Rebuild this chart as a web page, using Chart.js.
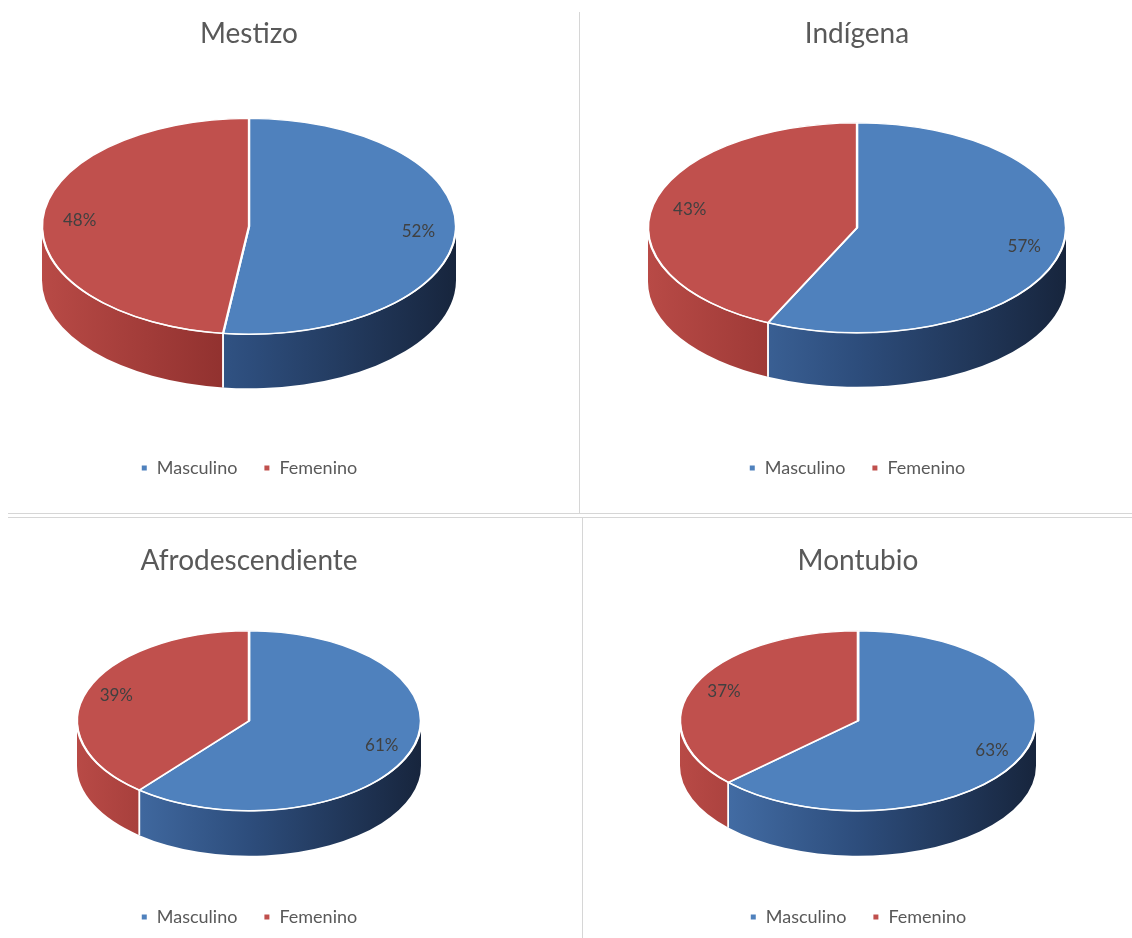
<!DOCTYPE html>
<html>
<head>
<meta charset="utf-8">
<script src="https://cdn.jsdelivr.net/npm/chart.js@4/dist/chart.umd.min.js"></script>
<style>
  body { margin: 0; background: #fff; width: 1132px; height: 938px; position: relative; overflow: hidden; }
  canvas { position: absolute; }
  .ln { position: absolute; background: #d6d6d6; }
</style>
</head>
<body>
<canvas id="mestizo" style="left:0;top:0" width="498" height="508"></canvas>
<canvas id="indigena" style="left:582px;top:0" width="550" height="508"></canvas>
<canvas id="afro" style="left:0;top:520px" width="498" height="418"></canvas>
<canvas id="montubio" style="left:584px;top:520px" width="548" height="418"></canvas>

<div class="ln" style="left:579px;top:12px;width:1px;height:501px"></div>
<div class="ln" style="left:8px;top:513px;width:1124px;height:1px"></div>
<div class="ln" style="left:8px;top:517px;width:1124px;height:1px"></div>
<div class="ln" style="left:582px;top:517px;width:1px;height:421px"></div>

<script>
const labels = ['Masculino', 'Femenino'];
const mestizo = [52, 48];
const indigena = [57, 43];
const afro = [61, 39];
const montubio = [63, 37];

const topColors = ['#4F81BD', '#C0504D'];
// side wall shading, light on the left to dark on the right
const sideColors = [
  ['#4a77b2', '#2d4d7c', '#17253d'],
  ['#b84a46', '#8c2e2c', '#6a2020']
];

// fake 3D: squash the library's arcs into an ellipse and add a wall below
const pie3d = {
  id: 'pie3d',
  beforeDatasetsDraw(chart, args, o) {
    const ctx = chart.ctx;
    const arcs = chart.getDatasetMeta(0).data;
    const R = arcs[0].outerRadius;
    const cx = arcs[0].x, cy = arcs[0].y - o.depth / 2;

    arcs.forEach((arc, i) => {
      const s = Math.max(arc.startAngle, 0), e = Math.min(arc.endAngle, Math.PI);
      if (e <= s) return;
      const g = ctx.createLinearGradient(cx - o.rx, 0, cx + o.rx, 0);
      sideColors[i].forEach((c, k) => g.addColorStop(k / (sideColors[i].length - 1), c));
      ctx.beginPath();
      ctx.ellipse(cx, cy, o.rx, o.ry, 0, s, e);
      ctx.ellipse(cx, cy + o.depth, o.rx, o.ry, 0, e, s, true);
      ctx.closePath();
      ctx.fillStyle = g;
      ctx.fill();
    });

    // white seams on the wall where slices meet
    ctx.strokeStyle = '#fff';
    ctx.lineWidth = 1.5;
    arcs.forEach(arc => {
      [arc.startAngle, arc.endAngle].forEach(a => {
        const n = ((a % (2 * Math.PI)) + 2 * Math.PI) % (2 * Math.PI);
        if (n <= 0.01 || n >= Math.PI - 0.01) return;
        const x = cx + o.rx * Math.cos(n), y = cy + o.ry * Math.sin(n);
        ctx.beginPath();
        ctx.moveTo(x, y);
        ctx.lineTo(x, y + o.depth);
        ctx.stroke();
      });
    });

    ctx.save();
    ctx.translate(cx, cy);
    ctx.scale(o.rx / R, o.ry / R);
    ctx.translate(-arcs[0].x, -arcs[0].y);
  },
  afterDatasetsDraw(chart, args, o) {
    const ctx = chart.ctx;
    ctx.restore();
    const arcs = chart.getDatasetMeta(0).data;
    const cx = arcs[0].x, cy = arcs[0].y - o.depth / 2;

    ctx.strokeStyle = 'rgba(255,255,255,0.9)';
    ctx.lineWidth = 1.5;
    ctx.beginPath();
    ctx.ellipse(cx, cy, o.rx, o.ry, 0, 0, Math.PI);
    ctx.stroke();

    const values = chart.data.datasets[0].data;
    const total = values.reduce((a, b) => a + b, 0);
    ctx.font = '17px Lato';
    ctx.fillStyle = '#404040';
    ctx.textAlign = 'center';
    ctx.textBaseline = 'middle';
    arcs.forEach((arc, i) => {
      const mid = (arc.startAngle + arc.endAngle) / 2;
      const x = cx + o.rx * 0.82 * Math.cos(mid);
      const y = cy + o.ry * 0.82 * Math.sin(mid);
      ctx.fillText(Math.round(values[i] / total * 100) + '%', x, y);
    });
  }
};

function makePie(id, title, values, geom, pad) {
  new Chart(document.getElementById(id), {
    type: 'pie',
    data: {
      labels: labels,
      datasets: [{
        data: values,
        backgroundColor: topColors,
        borderColor: '#ffffff',
        borderWidth: 2,
        clip: false
      }]
    },
    options: {
      responsive: false,
      animation: false,
      events: [],
      layout: { padding: { bottom: pad.bottom } },
      plugins: {
        title: {
          display: true,
          text: title,
          color: '#595959',
          font: { family: 'Lato', size: 28, weight: 'normal' },
          padding: { top: pad.titleTop, bottom: pad.titleBottom }
        },
        legend: {
          position: 'bottom',
          labels: {
            color: '#595959',
            font: { family: 'Lato', size: 18 },
            boxWidth: 7,
            boxHeight: 7,
            padding: 26
          }
        },
        tooltip: { enabled: false },
        pie3d: geom
      }
    },
    plugins: [pie3d]
  });
}

makePie('mestizo', 'Mestizo', mestizo, { rx: 207, ry: 108, depth: 54 }, { titleTop: 17, titleBottom: 23, bottom: 21 });
makePie('indigena', 'Indígena', indigena, { rx: 209, ry: 105, depth: 54 }, { titleTop: 17, titleBottom: 26, bottom: 21 });
makePie('afro', 'Afrodescendiente', afro, { rx: 172, ry: 90, depth: 45 }, { titleTop: 24, titleBottom: 27, bottom: 2 });
makePie('montubio', 'Montubio', montubio, { rx: 178, ry: 90, depth: 45 }, { titleTop: 24, titleBottom: 27, bottom: 2 });
</script>
</body>
</html>
